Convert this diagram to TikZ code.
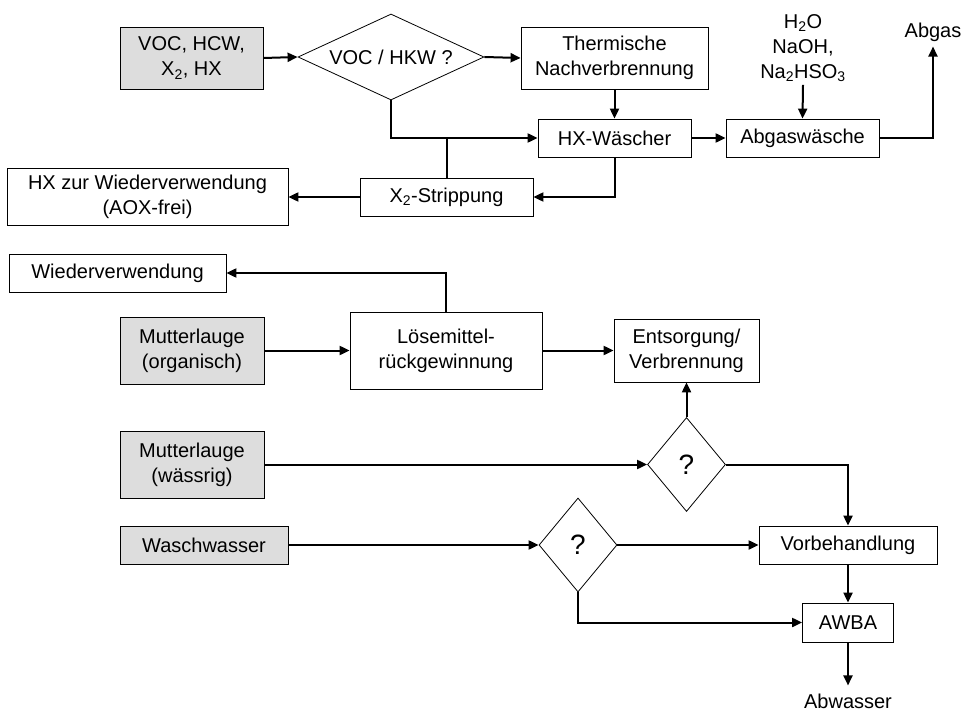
\documentclass[tikz,border=0pt]{standalone}
\usepackage{fontspec}
\setmainfont{Liberation Sans}
\usetikzlibrary{shapes.geometric,arrows.meta}
\definecolor{feedgray}{HTML}{DDDDDD}

\begin{document}
\begin{tikzpicture}[
	x=1pt, y=-1pt,
	font=\fontsize{20}{25}\selectfont,
	box/.style={ draw, line width=0.8pt, align=center, inner sep=2pt },
	feed/.style={ box, fill=feedgray },
	query/.style={ diamond, draw, line width=0.8pt, inner sep=0pt },
	ask/.style={ query, aspect=0.83, font=\fontsize{28}{30}\selectfont },
	note/.style={ align=center, inner sep=3pt },
	flow/.style={ line width=2pt, -{Triangle[length=10pt,width=9pt]} },
	pipe/.style={ line width=2pt }
]
\useasboundingbox (0,0) rectangle (968,711);

% Abgasbehandlung
\node at (191.5,58) (voc) [feed,minimum width=143pt,minimum height=62pt] {VOC, HCW,\\X\textsubscript{2}, HX};
\node at (391,57) (hkw) [query,aspect=2.16,minimum width=186pt,minimum height=86pt] {VOC / HKW ?};
\node at (614.5,58) (tnv) [box,minimum width=187pt,minimum height=62pt] {Thermische\\Nachverbrennung};
\node at (614.5,138) (hxw) [box,minimum width=153pt,minimum height=38pt] {HX-Wäscher};
\node at (802.5,138) (agw) [box,minimum width=153pt,minimum height=38pt] {Abgaswäsche};
\node at (803,48) (chem) [note] {H\textsubscript{2}O\\NaOH,\\Na\textsubscript{2}HSO\textsubscript{3}};
\node at (933,32) (abgas) [note,inner sep=5pt] {Abgas};
\node at (446.5,197) (x2s) [box,minimum width=173pt,minimum height=38pt] {X\textsubscript{2}-Strippung};
\node at (147.5,196.5) (hxr) [box,minimum width=281pt,minimum height=57pt] {HX zur Wiederverwendung\\(AOX-frei)};

\draw[flow] (voc.east) -- (hkw.west);
\draw[flow] (hkw.east) -- (tnv.west);
\draw[flow] (tnv.south) -- (hxw.north);
\draw[flow] (hkw.south) |- (hxw.west);
\coordinate (j1) at (x2s.north |- hxw.west);
\draw[pipe] (j1) -- (x2s.north);
\draw[flow] (hxw.east) -- (agw.west);
\draw[flow] (chem.south) -- (agw.north);
\draw[flow] (agw.east) -| (abgas.south);
\draw[flow] (hxw.south) |- (x2s.east);
\draw[flow] (x2s.west) -- (x2s.west -| hxr.east);

% Abwasserbehandlung
\node at (117.5,273) (wv) [box,minimum width=217pt,minimum height=38pt] {Wiederverwendung};
\node at (192,350.5) (mlo) [feed,minimum width=144pt,minimum height=67pt] {Mutterlauge\\(organisch)};
\node at (446,350.5) (lmr) [box,minimum width=192pt,minimum height=77pt] {Lösemittel-\\rückgewinnung};
\node at (686.5,350.5) (ent) [box,minimum width=145pt,minimum height=63pt] {Entsorgung/\\Verbrennung};
\node at (192,464.5) (mlw) [feed,minimum width=144pt,minimum height=67pt] {Mutterlauge\\(wässrig)};
\node at (686.5,464.5) (q1) [ask,minimum width=78pt,minimum height=94pt] {?};
\node at (204,545) (ww) [feed,minimum width=168pt,minimum height=38pt] {Waschwasser};
\node at (578,545) (q2) [ask,minimum width=78pt,minimum height=94pt] {?};
\node at (848,545) (vb) [box,minimum width=178pt,minimum height=38pt] {Vorbehandlung};
\node at (848,622.5) (awba) [box,minimum width=91pt,minimum height=39pt] {AWBA};
\node at (848,701) (abw) [note,inner sep=8pt] {Abwasser};

\draw[flow] (lmr.north) |- (wv.east);
\draw[flow] (mlo.east) -- (lmr.west);
\draw[flow] (lmr.east) -- (ent.west);
\draw[flow] (mlw.east) -- (q1.west);
\draw[flow] (q1.north) -- (ent.south);
\draw[flow] (q1.east) -| (vb.north);
\draw[flow] (ww.east) -- (q2.west);
\draw[flow] (q2.east) -- (vb.west);
\draw[flow] (q2.south) |- (awba.west);
\draw[flow] (vb.south) -- (awba.north);
\draw[flow] (awba.south) -- (abw.north);

\end{tikzpicture}
\end{document}
